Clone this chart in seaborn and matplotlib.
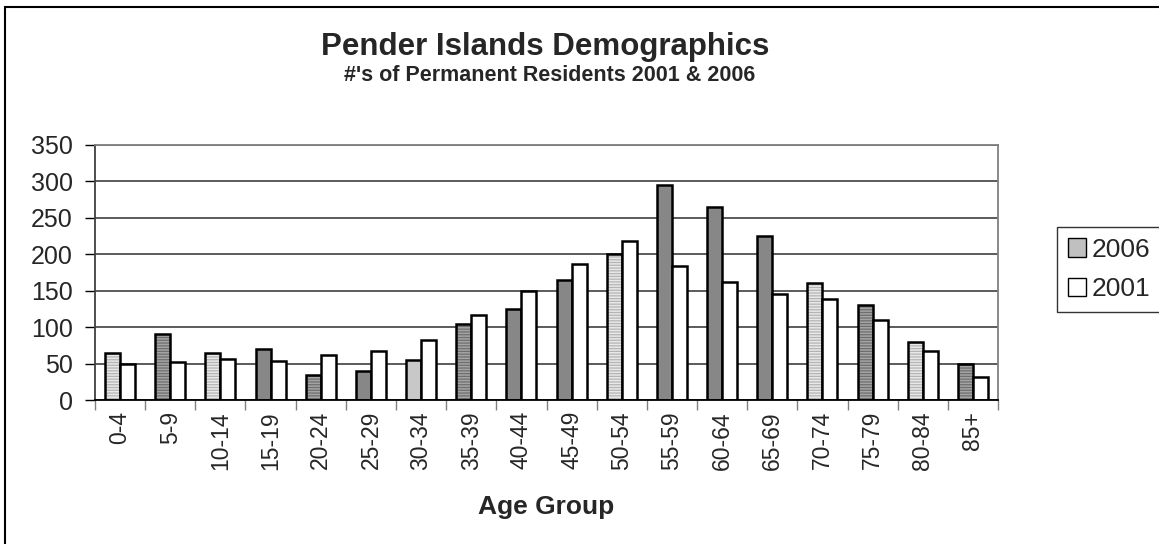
import matplotlib
matplotlib.use("Agg")
import matplotlib.pyplot as plt
import matplotlib.colors as mcolors
from matplotlib.patches import Rectangle, Patch
import seaborn as sns
import pandas as pd

age_groups = ["0-4", "5-9", "10-14", "15-19", "20-24", "25-29", "30-34", "35-39",
              "40-44", "45-49", "50-54", "55-59", "60-64", "65-69", "70-74", "75-79",
              "80-84", "85+"]
values_2006 = [65, 90, 65, 70, 35, 40, 55, 105, 125, 165, 200, 295, 265, 225, 160, 130, 80, 50]
values_2001 = [50, 52, 56, 54, 62, 67, 83, 116, 149, 186, 218, 184, 162, 146, 138, 110, 67, 32]
series_names = ["2006", "2001"]
# fill style of each 2006 bar, as drawn in the original
styles_2006 = ["light_hatch", "dark_hatch", "light_hatch", "solid", "dark_hatch", "solid",
               "light_solid", "dark_hatch", "solid", "solid", "light_hatch", "solid",
               "solid", "solid", "light_hatch", "dark_hatch", "light_hatch", "dark_hatch"]

style_map = {
    "light_hatch": ("#e8e8e8", "#b4b4b4", "------"),
    "dark_hatch": ("#a4a4a4", "#6e6e6e", "------"),
    "solid": ("#878787", None, ""),
    "light_solid": ("#c8c8c8", None, ""),
}

df = pd.DataFrame({"Age Group": age_groups, "2006": values_2006, "2001": values_2001})
long_df = df.melt(id_vars="Age Group", var_name="Year", value_name="Residents")

sns.set_style("white")
plt.rcParams["font.family"] = ["Liberation Sans", "DejaVu Sans"]
plt.rcParams["hatch.linewidth"] = 0.9

fig = plt.figure(figsize=(11.59, 5.44), dpi=100)
ax = fig.add_axes([95 / 1159, 1 - 400 / 544, (998 - 95) / 1159, (400 - 145) / 544])

sns.barplot(data=long_df, x="Age Group", y="Residents", hue="Year", hue_order=series_names,
            order=age_groups, width=0.6, ax=ax, edgecolor="black", linewidth=1.8,
            saturation=1, palette=["#878787", "white"], legend=False)

for p, st in zip(ax.containers[0], styles_2006):
    face, hcol, hatch = style_map[st]
    p.set_facecolor(face)
    p.set_edgecolor("black")
    if hatch:
        p.set_hatch(hatch)
        p._hatch_color = mcolors.to_rgba(hcol)
for p in ax.containers[1]:
    p.set_facecolor("white")
    p.set_edgecolor("black")

ax.set_ylim(0, 350)
ax.set_xlim(-0.5, len(age_groups) - 0.5)
ax.set_yticks(range(0, 351, 50))
ax.yaxis.grid(True, color="#404040", linewidth=1.2)
ax.set_axisbelow(True)
ax.tick_params(axis="y", labelsize=18, length=7, width=1, direction="out", left=True, pad=9,
               color="black")
ax.set_xticks(range(len(age_groups)))
ax.set_xticklabels(age_groups, rotation=90, fontsize=16.5)
ax.tick_params(axis="x", which="major", length=0, pad=8)
ax.set_xticks([i - 0.5 for i in range(len(age_groups) + 1)], minor=True)
ax.tick_params(axis="x", which="minor", length=7, width=1, direction="out", bottom=True,
               color="#808080")
ax.set_ylabel("")
ax.set_xlabel("Age Group", fontsize=19, fontweight="bold", labelpad=18)

for side in ["top", "right"]:
    ax.spines[side].set_color("#808080")
    ax.spines[side].set_linewidth(1.3)
ax.spines["left"].set_color("#404040")
ax.spines["left"].set_linewidth(1.3)
ax.spines["bottom"].set_color("black")
ax.spines["bottom"].set_linewidth(1.3)

fig.text(0.470, 1 - 55 / 544, "Pender Islands Demographics", ha="center", va="baseline",
         fontsize=22.5, fontweight="bold")
fig.text(0.474, 1 - 81 / 544, "#'s of Permanent Residents 2001 & 2006", ha="center",
         va="baseline", fontsize=15.5, fontweight="bold")

handles = [Patch(facecolor="#c0c0c0", edgecolor="black", linewidth=1.0, label="2006"),
           Patch(facecolor="white", edgecolor="black", linewidth=1.0, label="2001")]
leg = fig.legend(handles=handles, loc="upper left", bbox_to_anchor=(1057 / 1159, 1 - 227 / 544),
                 fontsize=19, frameon=True, fancybox=False, handlelength=0.7,
                 handleheight=0.7, handletextpad=0.2, borderpad=0.4, labelspacing=0.6,
                 borderaxespad=0)
leg.get_frame().set_edgecolor("black")
leg.get_frame().set_linewidth(1.0)

fig.patches.append(Rectangle((5 / 1159, -0.05), 1.2, 1 - 7 / 544 + 0.05, transform=fig.transFigure,
                             fill=False, edgecolor="black", linewidth=1.5))

fig.savefig("out.png", dpi=100, facecolor="white")
